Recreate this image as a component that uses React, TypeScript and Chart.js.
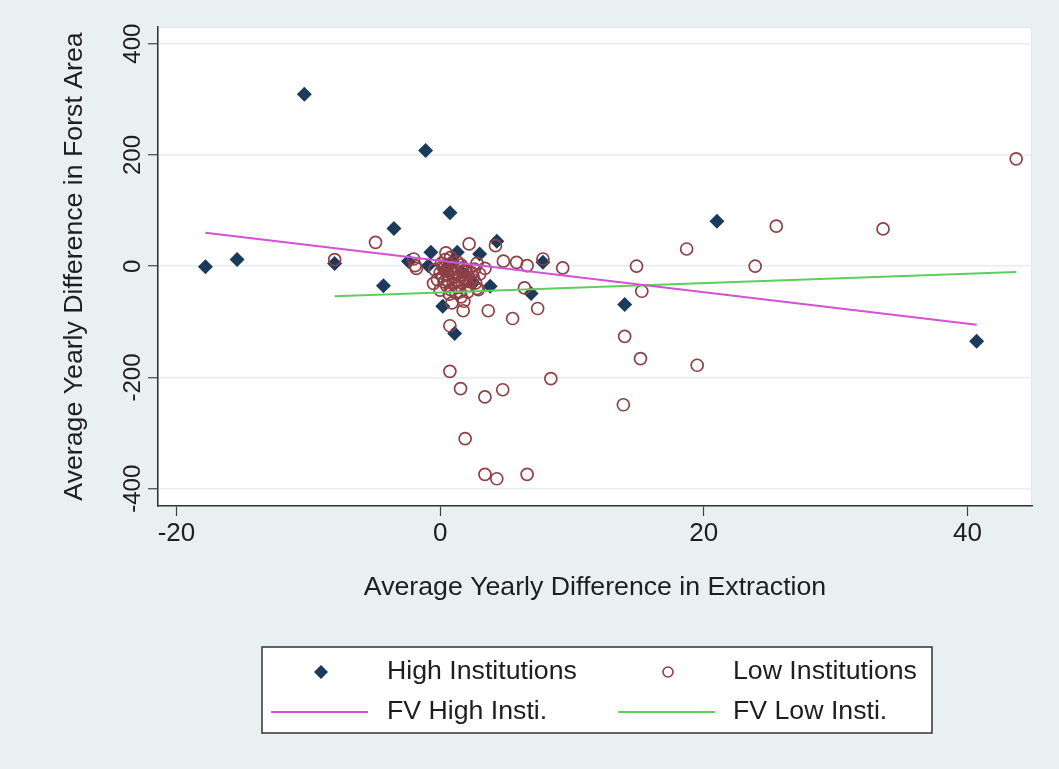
import React, { useEffect, useRef } from "react";
import { Chart, registerables } from "chart.js";

Chart.register(...registerables);

// ---------- data ----------
const xTicks = [-20, 0, 20, 40];
const yTicks = [-400, -200, 0, 200, 400];

const highX = [-17.8, -15.4, -10.3, -8.0, -4.3, -3.5, -1.1, 0.75, -0.7, -2.4, -0.9, 1.3, 3.0, 4.3, 3.8, 6.9, 7.8, 0.2, 1.1, 21.0, 14.0, 40.7, 0.4, 1.6, 2.5, 0.9];
const highY = [-1, 12, 309, 5, -35, 68, 208, 96, 25, 9, 1, 25, 22, 45, -36, -49, 7, -72, -121, 81, -69, -135, -5, -10, -30, 8];

const lowX = [
  43.7, 25.5, 33.6, 18.7, 14.9, 23.9, 9.3, 15.3, 14.0, 15.2, 19.5, 13.9,
  1.75, 3.65, 5.5, 7.4, 0.74, 0.74, 8.4, 1.55, 3.4, 4.75, 1.9, 3.4, 4.3, 6.6,
  -4.9, -8.0, -2.0, -1.8, 0.44, 2.2, 4.2, 4.8, 5.8, 6.6, 7.8, 6.4, 2.9, 0, -1.9,
  0.1, 0.3, 0.5, 0.7, 0.9, 1.1, 1.3, 1.5, 1.7, 1.9, 0.2, 0.6, 1.0, 1.4, 2.0, 2.3,
  2.6, 0.4, 0.8, 1.2, 1.6, 2.1, -0.5, -0.2, 2.5, 1.8, 0.9, 3.0, 3.4, 2.8, -0.4, 1.5, 2.8,
  0.2, 0.6, 1.0, 1.3, 1.7, 2.2, 0.5, 0.8, 1.1, 1.9, 2.4, 0.3, 1.6, 2.0, 1.2, 2.7, 0.0, 0.7,
];
const lowY = [
  193, 72, 67, 31, 0, 0, -3, -45, -126, -166, -178, -249,
  -80, -80, -94, -76, -107, -189, -202, -220, -235, -222, -310, -374, -382, -374,
  43, 12, 13, -4, 24, 40, 37, 9, 7, 1, 13, -39, -42, -43, 1,
  5, -3, -9, 3, -13, -5, 8, -16, -3, -22, -18, -26, -31, -38, -10, -28,
  -5, 12, 16, -48, -55, -46, -31, -24, -19, -63, -66, -14, -4, 5, -6, -46, -40,
  0, -15, -20, -25, -30, -35, -35, -42, -10, -8, -12, -28, 2, -24, -36, -30, -12, -50,
];

const fvHighX = [-17.8, 40.7];
const fvHighY = [60, -105];
const fvLowX = [-8.0, 43.7];
const fvLowY = [-54, -10.5];

const legendLabels = ["High Institutions", "Low Institutions", "FV High Insti.", "FV Low Insti."];
const xTitle = "Average Yearly Difference in Extraction";
const yTitle = "Average Yearly Difference in Forst Area";

// ---------- styles ----------
const FONT = "'Liberation Sans', Arial, Helvetica, sans-serif";
const BG = "#e9f0f2";
const NAVY = "#1b3b5c";
const MAROON = "#8e4046";
const PINK = "#d452d4";
const GREEN = "#5ccf5c";
const TEXT = "#1e1e1e";

const pts = (xs: number[], ys: number[]) => xs.map((x, i) => ({ x, y: ys[i] }));

const customPlugin = {
  id: "stataLook",
  beforeDraw(chart: any) {
    const { ctx, chartArea: a } = chart;
    ctx.save();
    ctx.fillStyle = BG;
    ctx.fillRect(0, 0, chart.width, chart.height);
    ctx.fillStyle = "#ffffff";
    ctx.fillRect(a.left, a.top, a.right - a.left, a.bottom - a.top);
    ctx.strokeStyle = "#dde6e9";
    ctx.lineWidth = 1;
    ctx.strokeRect(a.left + 0.5, a.top + 0.5, a.right - a.left - 1, a.bottom - a.top - 1);
    ctx.restore();
  },
  afterDraw(chart: any) {
    const { ctx } = chart;
    const ys = chart.scales.y;
    // rotated y tick labels
    ctx.save();
    ctx.fillStyle = TEXT;
    ctx.font = `24px ${FONT}`;
    ctx.textAlign = "center";
    ctx.textBaseline = "alphabetic";
    ys.ticks.forEach((t: any) => {
      const py = ys.getPixelForValue(t.value);
      ctx.save();
      ctx.translate(140, py);
      ctx.rotate(-Math.PI / 2);
      ctx.fillText(String(t.value), 0, 0);
      ctx.restore();
    });
    ctx.restore();

    // legend box
    ctx.save();
    const bx = 262, by = 647, bw = 670, bh = 86;
    ctx.fillStyle = "#ffffff";
    ctx.fillRect(bx, by, bw, bh);
    ctx.strokeStyle = "#333333";
    ctx.lineWidth = 1.5;
    ctx.strokeRect(bx, by, bw, bh);
    const r1 = 672, r2 = 712;
    // diamond
    ctx.fillStyle = NAVY;
    ctx.beginPath();
    ctx.moveTo(321, r1 - 7);
    ctx.lineTo(328, r1);
    ctx.lineTo(321, r1 + 7);
    ctx.lineTo(314, r1);
    ctx.closePath();
    ctx.fill();
    // circle
    ctx.strokeStyle = MAROON;
    ctx.lineWidth = 1.6;
    ctx.beginPath();
    ctx.arc(668, r1, 5, 0, Math.PI * 2);
    ctx.stroke();
    // lines
    ctx.lineWidth = 2;
    ctx.strokeStyle = PINK;
    ctx.beginPath();
    ctx.moveTo(271, r2);
    ctx.lineTo(368, r2);
    ctx.stroke();
    ctx.strokeStyle = GREEN;
    ctx.beginPath();
    ctx.moveTo(618, r2);
    ctx.lineTo(715, r2);
    ctx.stroke();
    // texts
    ctx.fillStyle = TEXT;
    ctx.font = `26.7px ${FONT}`;
    ctx.textAlign = "left";
    ctx.textBaseline = "middle";
    ctx.fillText(legendLabels[0], 387, r1);
    ctx.fillText(legendLabels[1], 733, r1);
    ctx.fillText(legendLabels[2], 387, r2);
    ctx.fillText(legendLabels[3], 733, r2);
    ctx.restore();
  },
};

export default function App() {
  const canvasRef = useRef<HTMLCanvasElement | null>(null);

  useEffect(() => {
    document.body.style.margin = "0";
    const canvas = canvasRef.current;
    if (!canvas) return;
    const chart = new Chart(canvas, {
      type: "scatter",
      data: {
        datasets: [
          {
            type: "line",
            label: legendLabels[2],
            data: pts(fvHighX, fvHighY),
            borderColor: PINK,
            borderWidth: 2,
            pointRadius: 0,
            fill: false,
            order: 1,
          },
          {
            type: "line",
            label: legendLabels[3],
            data: pts(fvLowX, fvLowY),
            borderColor: GREEN,
            borderWidth: 2,
            pointRadius: 0,
            fill: false,
            order: 2,
          },
          {
            label: legendLabels[1],
            data: pts(lowX, lowY),
            pointStyle: "circle",
            pointRadius: 6,
            borderWidth: 1.7,
            borderColor: MAROON,
            backgroundColor: "rgba(255,255,255,0)",
            order: 3,
          },
          {
            label: legendLabels[0],
            data: pts(highX, highY),
            pointStyle: "rectRot",
            pointRadius: 7.5,
            borderWidth: 0,
            borderColor: NAVY,
            backgroundColor: NAVY,
            order: 4,
          },
        ],
      } as any,
      options: {
        responsive: false,
        animation: false,
        events: [],
        layout: { padding: { left: 0, top: 27, right: 27, bottom: 0 } },
        plugins: {
          legend: { display: false },
          tooltip: { enabled: false },
          title: { display: false },
        },
        scales: {
          x: {
            type: "linear",
            min: -21.4,
            max: 44.9,
            afterBuildTicks: (s: any) => {
              s.ticks = xTicks.map((v) => ({ value: v }));
            },
            afterFit: (s: any) => {
              s.height = 263;
            },
            grid: {
              drawOnChartArea: false,
              drawTicks: true,
              tickLength: 10,
              tickColor: "#444",
              tickWidth: 1.2,
            },
            border: { display: true, color: "#333", width: 1.5 },
            ticks: {
              color: TEXT,
              font: { family: FONT, size: 26 },
              padding: 2,
              maxRotation: 0,
              minRotation: 0,
            },
            title: {
              display: true,
              text: xTitle,
              color: TEXT,
              font: { family: FONT, size: 26.7 },
              padding: { top: 0, bottom: 165 },
            },
          },
          y: {
            type: "linear",
            min: -431,
            max: 430,
            afterBuildTicks: (s: any) => {
              s.ticks = yTicks.map((v) => ({ value: v }));
            },
            afterFit: (s: any) => {
              s.width = 158;
            },
            grid: {
              drawOnChartArea: true,
              color: "#e6edef",
              lineWidth: 1.5,
              drawTicks: true,
              tickLength: 10,
              tickColor: "#444",
              tickWidth: 1.2,
            },
            border: { display: true, color: "#333", width: 1.5 },
            ticks: { display: false },
            title: {
              display: true,
              text: yTitle,
              color: TEXT,
              font: { family: FONT, size: 26.7 },
              padding: { top: 59, bottom: 0 },
            },
          },
        },
      } as any,
      plugins: [customPlugin],
    });
    return () => chart.destroy();
  }, []);

  return (
    <div style={{ position: "absolute", left: 0, top: 0, width: 1059, height: 769, background: BG }}>
      <canvas ref={canvasRef} width={1059} height={769} style={{ display: "block" }} />
    </div>
  );
}
